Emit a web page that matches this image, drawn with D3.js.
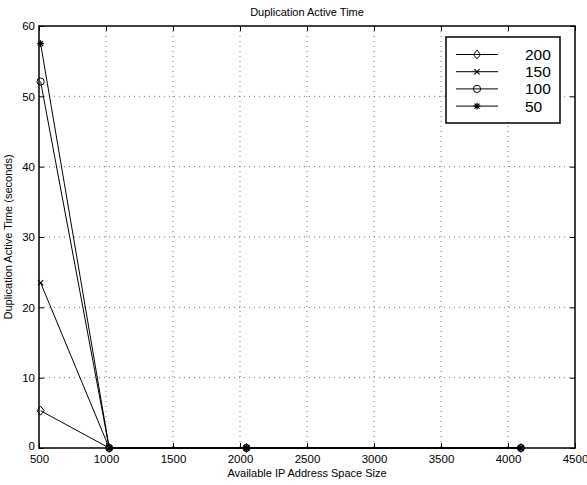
<!DOCTYPE html>
<html>
<head>
<meta charset="utf-8">
<script src="https://cdn.jsdelivr.net/npm/d3@7"></script>
<style>
  body { margin: 0; background: #fff; }
  text { font-family: "Liberation Sans", Arial, sans-serif; fill: #000; }
</style>
</head>
<body>
<svg id="chart"></svg>
<script>
// data
var sizes = [512, 1024, 2048, 4096];
var seriesNames = ["200", "150", "100", "50"];
var seriesMarkers = ["diamond", "cross", "circle", "star"];
var s200 = [5.3, 0, 0, 0];
var s150 = [23.5, 0, 0, 0];
var s100 = [52.1, 0, 0, 0];
var s50 = [57.5, 0, 0, 0];
var xTicks = [500, 1000, 1500, 2000, 2500, 3000, 3500, 4000, 4500];
var yTicks = [0, 10, 20, 30, 40, 50, 60];

var allSeries = [s200, s150, s100, s50];

var svgWidth = 587, svgHeight = 485;
var pLeft = 39, pTop = 26, pRight = 575, pBottom = 448;

var svg = d3.select("#chart")
    .attr("width", svgWidth)
    .attr("height", svgHeight);

var x = d3.scaleLinear().domain([500, 4500]).range([pLeft, pRight]);
var y = d3.scaleLinear().domain([0, 60]).range([pBottom, pTop]);

// grid
svg.selectAll(".vgrid").data(xTicks.slice(1, -1)).enter().append("line")
    .attr("x1", d => x(d)).attr("x2", d => x(d))
    .attr("y1", pTop).attr("y2", pBottom)
    .attr("stroke", "#555").attr("stroke-width", 0.8)
    .attr("stroke-dasharray", "1,4");
svg.selectAll(".hgrid").data(yTicks.slice(1, -1)).enter().append("line")
    .attr("x1", pLeft).attr("x2", pRight)
    .attr("y1", d => y(d)).attr("y2", d => y(d))
    .attr("stroke", "#555").attr("stroke-width", 0.8)
    .attr("stroke-dasharray", "1,4");

// axes, ticks inward
var fmt = d3.format("d");
svg.append("g").attr("transform", "translate(0," + pBottom + ")")
    .call(d3.axisBottom(x).tickValues(xTicks).tickFormat(fmt).tickSizeInner(-5).tickSizeOuter(0).tickPadding(7))
    .call(g => g.select(".domain").remove());
svg.append("g").attr("transform", "translate(" + pLeft + ",0)")
    .call(d3.axisLeft(y).tickValues(yTicks).tickFormat(fmt).tickSizeInner(-5).tickSizeOuter(0).tickPadding(4))
    .call(g => g.select(".domain").remove());
svg.append("g").attr("transform", "translate(0," + pTop + ")")
    .call(d3.axisTop(x).tickValues(xTicks).tickSizeInner(-5).tickSizeOuter(0).tickFormat(""))
    .call(g => g.select(".domain").remove());
svg.append("g").attr("transform", "translate(" + pRight + ",0)")
    .call(d3.axisRight(y).tickValues(yTicks).tickSizeInner(-5).tickSizeOuter(0).tickFormat(""))
    .call(g => g.select(".domain").remove());
svg.selectAll(".tick text").style("font-size", "11.5px").style("font-family", "Liberation Sans, Arial, sans-serif");
svg.selectAll(".tick line").attr("stroke", "#000");
// the "0" label sits just above the "500" label, as in the original
svg.selectAll(".tick text").filter(d => d === 0).attr("dy", "0.1em");

// frame
svg.append("rect")
    .attr("x", pLeft).attr("y", pTop)
    .attr("width", pRight - pLeft).attr("height", pBottom - pTop)
    .attr("fill", "none").attr("stroke", "#000").attr("stroke-width", 1.5);

// markers
function drawMarker(g, type, cx, cy) {
    var r = 3.6;
    if (type == "diamond") {
        g.append("path")
            .attr("d", "M" + cx + "," + (cy - r - 0.8) + "L" + (cx + r) + "," + cy + "L" + cx + "," + (cy + r + 0.8) + "L" + (cx - r) + "," + cy + "Z")
            .attr("fill", "none").attr("stroke", "#000").attr("stroke-width", 1);
    } else if (type == "circle") {
        g.append("circle").attr("cx", cx).attr("cy", cy).attr("r", r)
            .attr("fill", "none").attr("stroke", "#000").attr("stroke-width", 1);
    } else if (type == "cross") {
        var c = 2.6;
        g.append("path")
            .attr("d", "M" + (cx - c) + "," + (cy - c) + "L" + (cx + c) + "," + (cy + c) + "M" + (cx - c) + "," + (cy + c) + "L" + (cx + c) + "," + (cy - c))
            .attr("stroke", "#000").attr("stroke-width", 1.2);
    } else {
        var s = 3.4, d = 2.5;
        g.append("path")
            .attr("d", "M" + cx + "," + (cy - s) + "L" + cx + "," + (cy + s) +
                "M" + (cx - s) + "," + cy + "L" + (cx + s) + "," + cy +
                "M" + (cx - d) + "," + (cy - d) + "L" + (cx + d) + "," + (cy + d) +
                "M" + (cx - d) + "," + (cy + d) + "L" + (cx + d) + "," + (cy - d))
            .attr("stroke", "#000").attr("stroke-width", 1.2);
    }
}

var line = d3.line().x((d, i) => x(sizes[i])).y(d => y(d));
var plot = svg.append("g");
allSeries.forEach(function(vals, k) {
    plot.append("path").datum(vals)
        .attr("d", line)
        .attr("fill", "none").attr("stroke", "#000").attr("stroke-width", 1);
    vals.forEach(function(v, i) {
        drawMarker(plot, seriesMarkers[k], x(sizes[i]), y(v));
    });
});

// legend
var lg = svg.append("g");
lg.append("rect").attr("x", 446).attr("y", 37).attr("width", 114).attr("height", 86)
    .attr("fill", "#fff").attr("stroke", "#000").attr("stroke-width", 1.5);
seriesNames.forEach(function(name, k) {
    var ly = 54.5 + k * 17.2;
    lg.append("line").attr("x1", 456).attr("x2", 498).attr("y1", ly).attr("y2", ly)
        .attr("stroke", "#000").attr("stroke-width", 1);
    drawMarker(lg, seriesMarkers[k], 477, ly);
    lg.append("text").attr("x", 525).attr("y", ly + 5.5)
        .style("font-size", "15.5px").text(name);
});

// titles
svg.append("text").attr("x", (pLeft + pRight) / 2).attr("y", 16)
    .attr("text-anchor", "middle").style("font-size", "11px").text("Duplication Active Time");
svg.append("text").attr("x", (pLeft + pRight) / 2).attr("y", 477)
    .attr("text-anchor", "middle").style("font-size", "11px").text("Available IP Address Space Size");
svg.append("text").attr("transform", "translate(12," + ((pTop + pBottom) / 2) + ") rotate(-90)")
    .attr("text-anchor", "middle").style("font-size", "11px").text("Duplication Active Time (seconds)");
</script>
</body>
</html>
